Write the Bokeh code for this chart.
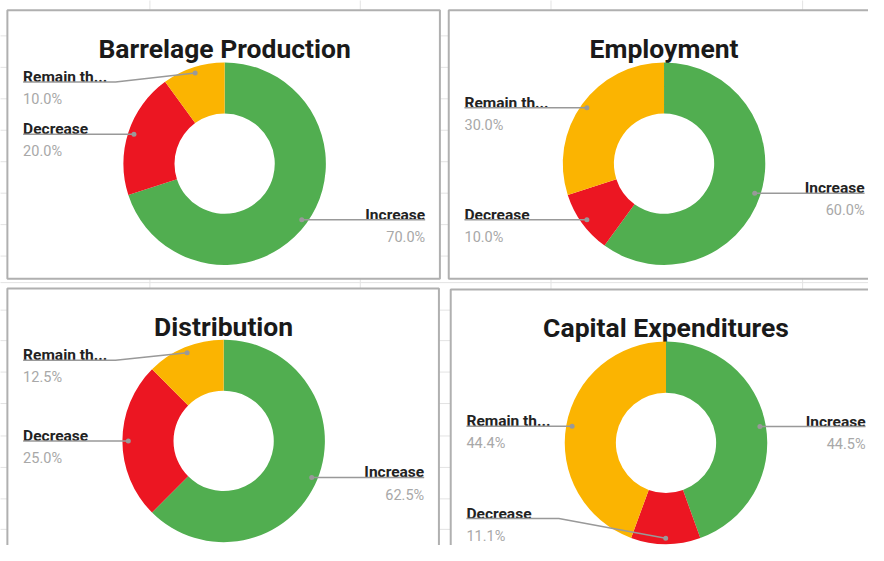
import math
from bokeh.plotting import figure
from bokeh.models import Range1d
from bokeh.core.properties import value
from bokeh.embed import file_html
from bokeh.resources import INLINE

# ---------------- data ----------------
titles = ["Barrelage Production", "Employment", "Distribution", "Capital Expenditures"]
categories = ["Increase", "Decrease", "Remain the same"]
barrelage = [70.0, 20.0, 10.0]
employment = [60.0, 10.0, 30.0]
distribution = [62.5, 25.0, 12.5]
capex = [44.5, 11.1, 44.4]
series = [barrelage, employment, distribution, capex]
colors = ["#51ae50", "#ec1622", "#fbb401"]

# ---------------- layout (reference pixel coords, y downward) ----------------
CW, CH = 868, 545
XR = 883.0
YR = CH * XR / CW
boxes = [(7, 10, 447, 283), (456, 10, 894, 283), (7, 293, 446, 620), (458, 294, 896, 620)]
centers = [(228, 166), (675, 166), (227, 448), (677, 450)]
R_OUT, R_IN = 103, 51
grid_x = [152, 366, 560, 816]
grid_y = [36, 68, 100, 132, 164, 196, 228, 260, 287, 315, 346, 378, 410, 443, 475, 507, 538]

FONT = value("Roboto")


def Y(y):
    return YR - y


p = figure(width=CW, height=CH, x_range=Range1d(0, XR), y_range=Range1d(0, YR),
           output_backend="svg", toolbar_location=None, min_border=0)
p.axis.visible = False
p.grid.visible = False
p.outline_line_color = None
p.background_fill_color = "white"
p.border_fill_color = "white"

# spreadsheet grid
p.segment(x0=grid_x, y0=[Y(-5)] * len(grid_x), x1=grid_x, y1=[Y(600)] * len(grid_x),
          line_color="#e3e3e3", line_width=1)
p.segment(x0=[-5] * len(grid_y), y0=[Y(v) for v in grid_y], x1=[900] * len(grid_y),
          y1=[Y(v) for v in grid_y], line_color="#e3e3e3", line_width=1)

# chart boxes
p.quad(left=[b[0] for b in boxes], right=[b[2] for b in boxes],
       top=[Y(b[1]) for b in boxes], bottom=[Y(b[3]) for b in boxes],
       fill_color="white", line_color="#b0b0b0", line_width=2)


def short(name):
    return name if len(name) <= 9 else name[:9] + "..."


for k in range(4):
    bx0, by0, bx1, by1 = boxes[k]
    cx, cy = centers[k]
    vals = series[k]
    total = sum(vals)
    # title
    p.text(x=[cx], y=[Y(by0 + 39)], text=[titles[k]],
           text_font=FONT, text_font_style="bold", text_font_size="26.5px",
           text_align="center", text_baseline="alphabetic", text_color="#1a1a1a")
    starts, ends, cols = [], [], []
    acc = 0.0
    dots_x, dots_y = [], []
    for i, v in enumerate(vals):
        a = acc / total
        b = (acc + v) / total
        starts.append(math.pi / 2 - 2 * math.pi * b)
        ends.append(math.pi / 2 - 2 * math.pi * a)
        cols.append(colors[i])
        mid = (a + b) / 2 * 2 * math.pi
        rd = R_OUT - 6
        dots_x.append(cx + rd * math.sin(mid))
        dots_y.append(cy - rd * math.cos(mid))
        acc += v
    p.annular_wedge(x=[cx] * 3, y=[Y(cy)] * 3, inner_radius=R_IN, outer_radius=R_OUT,
                    start_angle=starts, end_angle=ends, fill_color=cols, line_color=None,
                    direction="anticlock")
    # labels
    lx_left = bx0 + 16
    lx_right = min(bx1, 895) - 15
    xs, ys = [], []
    for i, v in enumerate(vals):
        dx, dy = dots_x[i], dots_y[i]
        ly = min(max(dy, by0 + 73), cy + 77)
        if dx < cx:
            if abs(ly - dy) > 1:
                xs.append([lx_left, lx_left + 94, dx])
                ys.append([Y(ly), Y(ly), Y(dy)])
            else:
                xs.append([lx_left, dx])
                ys.append([Y(ly), Y(dy)])
            tx, align = lx_left, "left"
        else:
            xs.append([dx, lx_right])
            ys.append([Y(dy), Y(ly)])
            tx, align = lx_right, "right"
        p.text(x=[tx], y=[Y(ly - 5)], text=[short(categories[i])], text_font=FONT,
               text_font_style="bold", text_font_size="15.5px", text_align=align,
               text_baseline="alphabetic", text_color="#222222")
        p.text(x=[tx], y=[Y(ly + 18)], text=["%.1f%%" % v], text_font=FONT,
               text_font_size="14.5px", text_align=align, text_baseline="alphabetic",
               text_color="#a8a8a8")
    p.multi_line(xs=xs, ys=ys, line_color="#999999", line_width=1.5)
    p.scatter(x=dots_x, y=[Y(v) for v in dots_y], size=5, fill_color="#999999",
              line_color=None)

open("out.html", "w").write(file_html(p, INLINE))
